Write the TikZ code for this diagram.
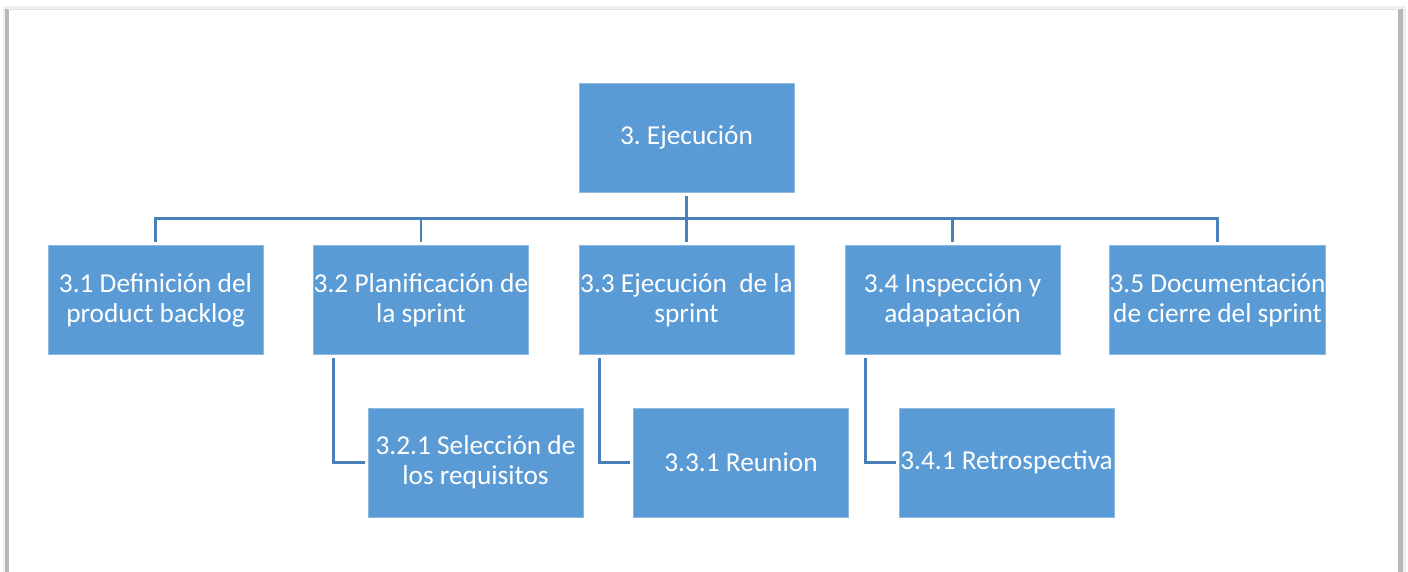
\documentclass[tikz,border=0pt]{standalone}
\usepackage{fontspec}
\setmainfont{Carlito}
\definecolor{boxblue}{HTML}{5B9BD5}
\definecolor{lineblue}{HTML}{4A80B8}
\tikzset{
  wbs/.style={rectangle, fill=boxblue, draw=boxblue!70!white, line width=0.4pt,
    minimum width=161pt, minimum height=82pt, inner sep=0pt, outer sep=2.5pt,
    align=center, text=white, font=\frenchspacing\fontsize{20.5}{22.5}\selectfont},
  conn/.style={draw=lineblue, line width=2.2pt}
}
\begin{document}
\begin{tikzpicture}[x=0.75pt, y=-0.75pt]
\useasboundingbox (0,0) rectangle (1408,571);
\clip (0,0) rectangle (1408,571);
% page frame with shadow
\fill[black!6] (3,6) rectangle (1406,600);
\fill[black!28] (5,9) rectangle (1403,600);
\fill[white] (9,10) rectangle (1398,600);
\draw[black!12, line width=0.8pt] (8,9.5) -- (1399,9.5);

\node[wbs] (root) at (686.5,137.5) {3. Ejecución};
\node[wbs] (c1) at (155.5,300) {3.1 Definición del\\product backlog};
\node[wbs] (c2) at (421,300) {3.2 Planificación de\\la sprint};
\node[wbs] (c3) at (686.5,300) {3.3 Ejecución~ de la\\sprint};
\node[wbs] (c4) at (952.5,300) {3.4 Inspección y\\adapatación};
\node[wbs] (c5) at (1217.5,300) {3.5 Documentación\\de cierre del sprint};
\node[wbs] (c21) at (475.5,462.5) {3.2.1 Selección de\\los requisitos};
\node[wbs] (c31) at (741,462.5) {3.3.1 Reunion};
\node[wbs] (c41) at (1006.5,462.5) {3.4.1 Retrospectiva};

\coordinate (bar) at (686.5,218.5);
\draw[conn] (root.south) -- (bar);
\foreach \c in {c1,c2,c3,c4,c5}{
  \draw[conn] (bar) -| (\c.north);
}
\draw[conn] ([xshift=17.5pt]c2.south west) |- (c21.west);
\draw[conn] ([xshift=17.5pt]c3.south west) |- (c31.west);
\draw[conn] ([xshift=17.5pt]c4.south west) |- (c41.west);
\end{tikzpicture}
\end{document}
